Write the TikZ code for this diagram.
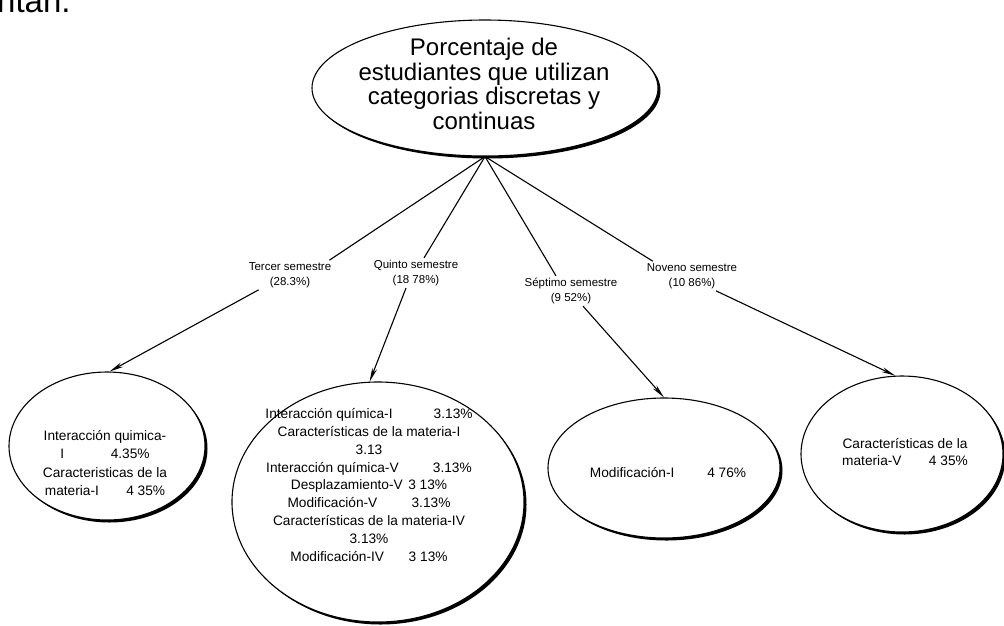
\documentclass[tikz,border=0pt]{standalone}
\usepackage{fontspec}
\setmainfont{Liberation Sans}
\usetikzlibrary{shapes.geometric,arrows.meta}
\begin{document}
\begin{tikzpicture}[x=1pt,y=-1pt,
  bubble/.style={ellipse,draw=black,line width=1.1pt,fill=white,inner sep=0pt},
  shade/.style={ellipse,fill=black,inner sep=0pt},
  lbl/.style={font=\fontsize{11.5}{15}\selectfont,align=center,inner sep=2pt,fill=white},
  body/.style={font=\fontsize{13.7}{17.8}\selectfont,align=center,inner sep=0pt},
  link/.style={line width=1.1pt},
  arr/.style={line width=1.1pt,-{Stealth[length=14pt,width=5pt]}}]
\useasboundingbox (0,0) rectangle (1004,625);
\fill[white] (0,0) rectangle (1004,625);

% running text of the page above, cut by the top edge
\node[anchor=base west,inner sep=0pt,font=\fontsize{33}{36}\selectfont] (runon) at (-3,12) {ntan.};

% root bubble
\node[shade,minimum width=346pt,minimum height=136pt] (rootsh) at (487.5,90.5) {};
\node[bubble,minimum width=346pt,minimum height=136pt] (root) at (485,88) {};
\node[font=\fontsize{24}{24.5}\selectfont,align=center] (roottxt) at (484,84)
  {Porcentaje de\\estudiantes que utilizan\\categorias discretas y\\continuas};

% leaf bubbles, each with a darker lower-right rim
\node[shade,minimum width=196pt,minimum height=148pt] (ash) at (109.5,448.5) {};
\node[bubble,minimum width=196pt,minimum height=148pt] (a) at (107,446) {};
\node[shade,minimum width=292pt,minimum height=240pt] (bsh) at (380.5,504.5) {};
\node[bubble,minimum width=292pt,minimum height=240pt] (b) at (378,502) {};
\node[shade,minimum width=232pt,minimum height=140pt] (csh) at (666.5,470.5) {};
\node[bubble,minimum width=232pt,minimum height=140pt] (c) at (664,468) {};
\node[shade,minimum width=202pt,minimum height=156pt] (dsh) at (904.5,456.5) {};
\node[bubble,minimum width=202pt,minimum height=156pt] (d) at (902,454) {};

% leaf texts
\node[body,font=\fontsize{13.7}{18.5}\selectfont] (atxt) at (105,463)
  {Interacción quimica-\\I\hspace{3.4em}4.35\%\\Caracteristicas de la\\materia-I\hspace{2em}4 35\%};
\node[body] (btxt) at (369,485)
  {Interacción química-I\hspace{3em}3.13\%\\
   Características de la materia-I\\
   3.13\\
   Interacción química-V\hspace{2.5em}3.13\%\\
   Desplazamiento-V\hspace{0.4em}3 13\%\\
   Modificación-V\hspace{2.5em}3.13\%\\
   Características de la materia-IV\\
   3.13\%\\
   Modificación-IV\hspace{1.8em}3 13\%};
\node[body] (ctxt) at (668,473) {Modificación-I\hspace{2.4em}4 76\%};
\node[body] (dtxt) at (905,452) {Características de la\\materia-V\hspace{2em}4 35\%};

% branch labels
\node[lbl] (l1) at (290,275) {Tercer semestre\\(28.3\%)};
\node[lbl] (l2) at (416,273) {Quinto semestre\\(18 78\%)};
\node[lbl] (l3) at (571,291) {Séptimo semestre\\(9 52\%)};
\node[lbl] (l4) at (692,276) {Noveno semestre\\(10 86\%)};

% connectors
\draw[link] (root.south) -- ([xshift=-4pt]l1.north east);
\draw[arr]  ([xshift=12pt]l1.south west) -- (a.88);
\draw[link] (root.south) -- ([xshift=8pt]l2.north);
\draw[arr]  ([xshift=-10pt]l2.south) -- (b.94);
\draw[link] (root.south) -- ([xshift=-15pt]l3.north);
\draw[arr]  ([xshift=12pt]l3.south) -- (c.north);
\draw[link] (root.south) -- ([xshift=8pt]l4.north west);
\draw[arr]  ([xshift=24pt]l4.south) -- (d.95);
\end{tikzpicture}
\end{document}
